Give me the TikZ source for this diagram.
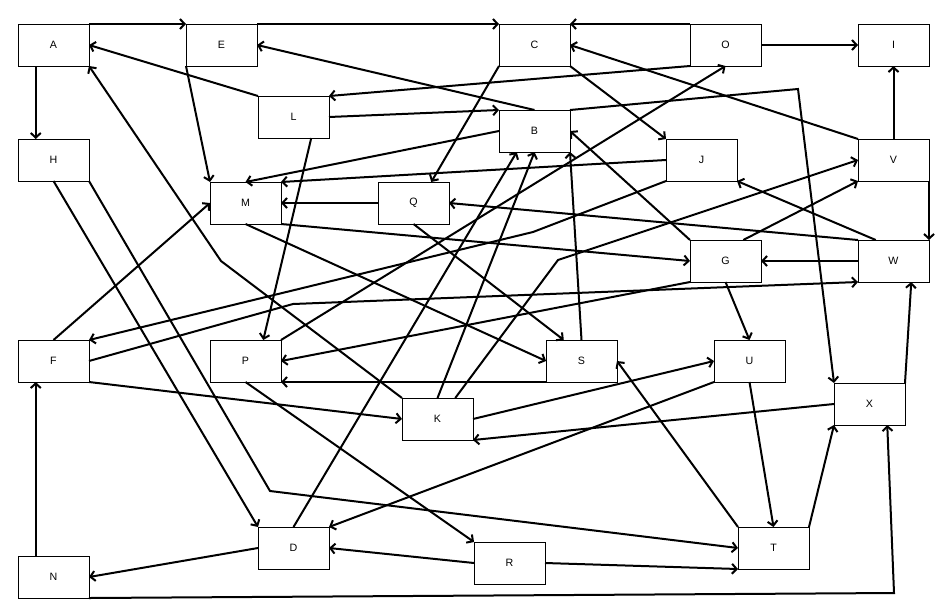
\documentclass[tikz,border=0pt]{standalone}
\usepackage{fontspec}
\setmainfont{Liberation Sans}
\usetikzlibrary{arrows.meta,calc}
\begin{document}
\begin{tikzpicture}[x=0.75pt,y=-0.75pt,
  box/.style={draw, line width=0.75pt, minimum width=53.25pt, minimum height=31.5pt, inner sep=0pt, outer sep=0pt, font=\fontsize{8}{10}\selectfont},
  e/.style={line width=1.5pt, -{Straight Barb[length=3.5pt,width=7.5pt]}}]
\useasboundingbox (0,0) rectangle (952,604);
\node[box] (A) at (53.5,45) {A};
\node[box] (E) at (221.5,45) {E};
\node[box] (C) at (534.5,45) {C};
\node[box] (O) at (725.5,45) {O};
\node[box] (I) at (893.5,45) {I};
\node[box] (L) at (293.5,117) {L};
\node[box] (B) at (534.5,131) {B};
\node[box] (H) at (53.5,160) {H};
\node[box] (J) at (701.5,160) {J};
\node[box] (V) at (893.5,160) {V};
\node[box] (M) at (245.5,203) {M};
\node[box] (Q) at (413.5,203) {Q};
\node[box] (G) at (725.5,261) {G};
\node[box] (W) at (893.5,261) {W};
\node[box] (F) at (53.5,361) {F};
\node[box] (P) at (245.5,361) {P};
\node[box] (S) at (581.5,361) {S};
\node[box] (U) at (749.5,361) {U};
\node[box] (X) at (869.5,404) {X};
\node[box] (K) at (437.5,419) {K};
\node[box] (D) at (293.5,548) {D};
\node[box] (T) at (773.5,548) {T};
\node[box] (R) at (509.5,563) {R};
\node[box] (N) at (53.5,577) {N};
\coordinate (bKA) at (221,261);
\coordinate (bBX) at (798,89);
\coordinate (bJF) at (533,232);
\coordinate (bKV) at (558,260);
\coordinate (bFW) at (293,304);
\coordinate (bHT) at (270,491);
\coordinate (bNX) at (894,593);
\draw[e] (A.north east) -- (E.north west);
\draw[e] (E.north east) -- (C.north west);
\draw[e] (O.north west) -- (C.north east);
\draw[e] (O.east) -- (I.west);
\draw[e] ($(A.south west)!.25!(A.south east)$) -- ($(H.north west)!.25!(H.north east)$);
\draw[e] (L.north west) -- (A.east);
\draw[e] (B.north) -- (E.east);
\draw[e] (K.north west) -- (bKA) -- (A.south east);
\draw[e] (E.south west) -- (M.north west);
\draw[e] (L.east) -- (B.north west);
\draw[e] (O.south west) -- (L.north east);
\draw[e] (B.west) -- (M.north);
\draw[e] (J.west) -- (M.north east);
\draw[e] ($(L.south west)!.75!(L.south east)$) -- ($(P.north west)!.75!(P.north east)$);
\draw[e] (C.south west) -- ($(Q.north west)!.75!(Q.north east)$);
\draw[e] (C.south east) -- (J.north west);
\draw[e] (V.north west) -- (C.east);
\draw[e] (B.north east) -- (bBX) -- (X.north west);
\draw[e] (P.north east) -- (O.south);
\draw[e] (J.south west) -- (bJF) -- (F.north east);
\draw[e] (V.north) -- (I.south);
\draw[e] (V.south east) -- (W.north east);
\draw[e] (K.north) -- (B.south);
\draw[e] ($(K.north west)!.75!(K.north east)$) -- (bKV) -- (V.west);
\draw[e] ($(G.north west)!.75!(G.north east)$) -- (V.south west);
\draw[e] (D.north) -- ($(B.south west)!.25!(B.south east)$);
\draw[e] (S.north) -- (B.south east);
\draw[e] (G.north west) -- (B.east);
\draw[e] ($(W.north west)!.25!(W.north east)$) -- (J.south east);
\draw[e] (W.north west) -- (Q.east);
\draw[e] (Q.west) -- (M.east);
\draw[e] (M.south east) -- (G.west);
\draw[e] (M.south) -- (S.west);
\draw[e] (Q.south) -- ($(S.north west)!.25!(S.north east)$);
\draw[e] (F.north) -- (M.west);
\draw[e] (W.west) -- (G.east);
\draw[e] (G.south) -- (U.north);
\draw[e] (F.east) -- (bFW) -- (W.south west);
\draw[e] (G.south west) -- (P.east);
\draw[e] (S.south west) -- (P.south east);
\draw[e] (F.south east) -- (K.west);
\draw[e] (K.east) -- (U.west);
\draw[e] (X.west) -- (K.south east);
\draw[e] (U.south west) -- (D.north east);
\draw[e] (R.west) -- (D.east);
\draw[e] (P.south) -- (R.north west);
\draw[e] (R.east) -- (T.south west);
\draw[e] (H.south east) -- (bHT) -- (T.west);
\draw[e] (H.south) -- (D.north west);
\draw[e] (T.north west) -- (S.east);
\draw[e] (U.south) -- (T.north);
\draw[e] (T.north east) -- (X.south west);
\draw[e] (N.south east) -- (bNX) -- ($(X.south west)!.75!(X.south east)$);
\draw[e] (X.north east) -- ($(W.south west)!.75!(W.south east)$);
\draw[e] (D.west) -- (N.east);
\draw[e] ($(N.north west)!.25!(N.north east)$) -- ($(F.south west)!.25!(F.south east)$);
\end{tikzpicture}
\end{document}
